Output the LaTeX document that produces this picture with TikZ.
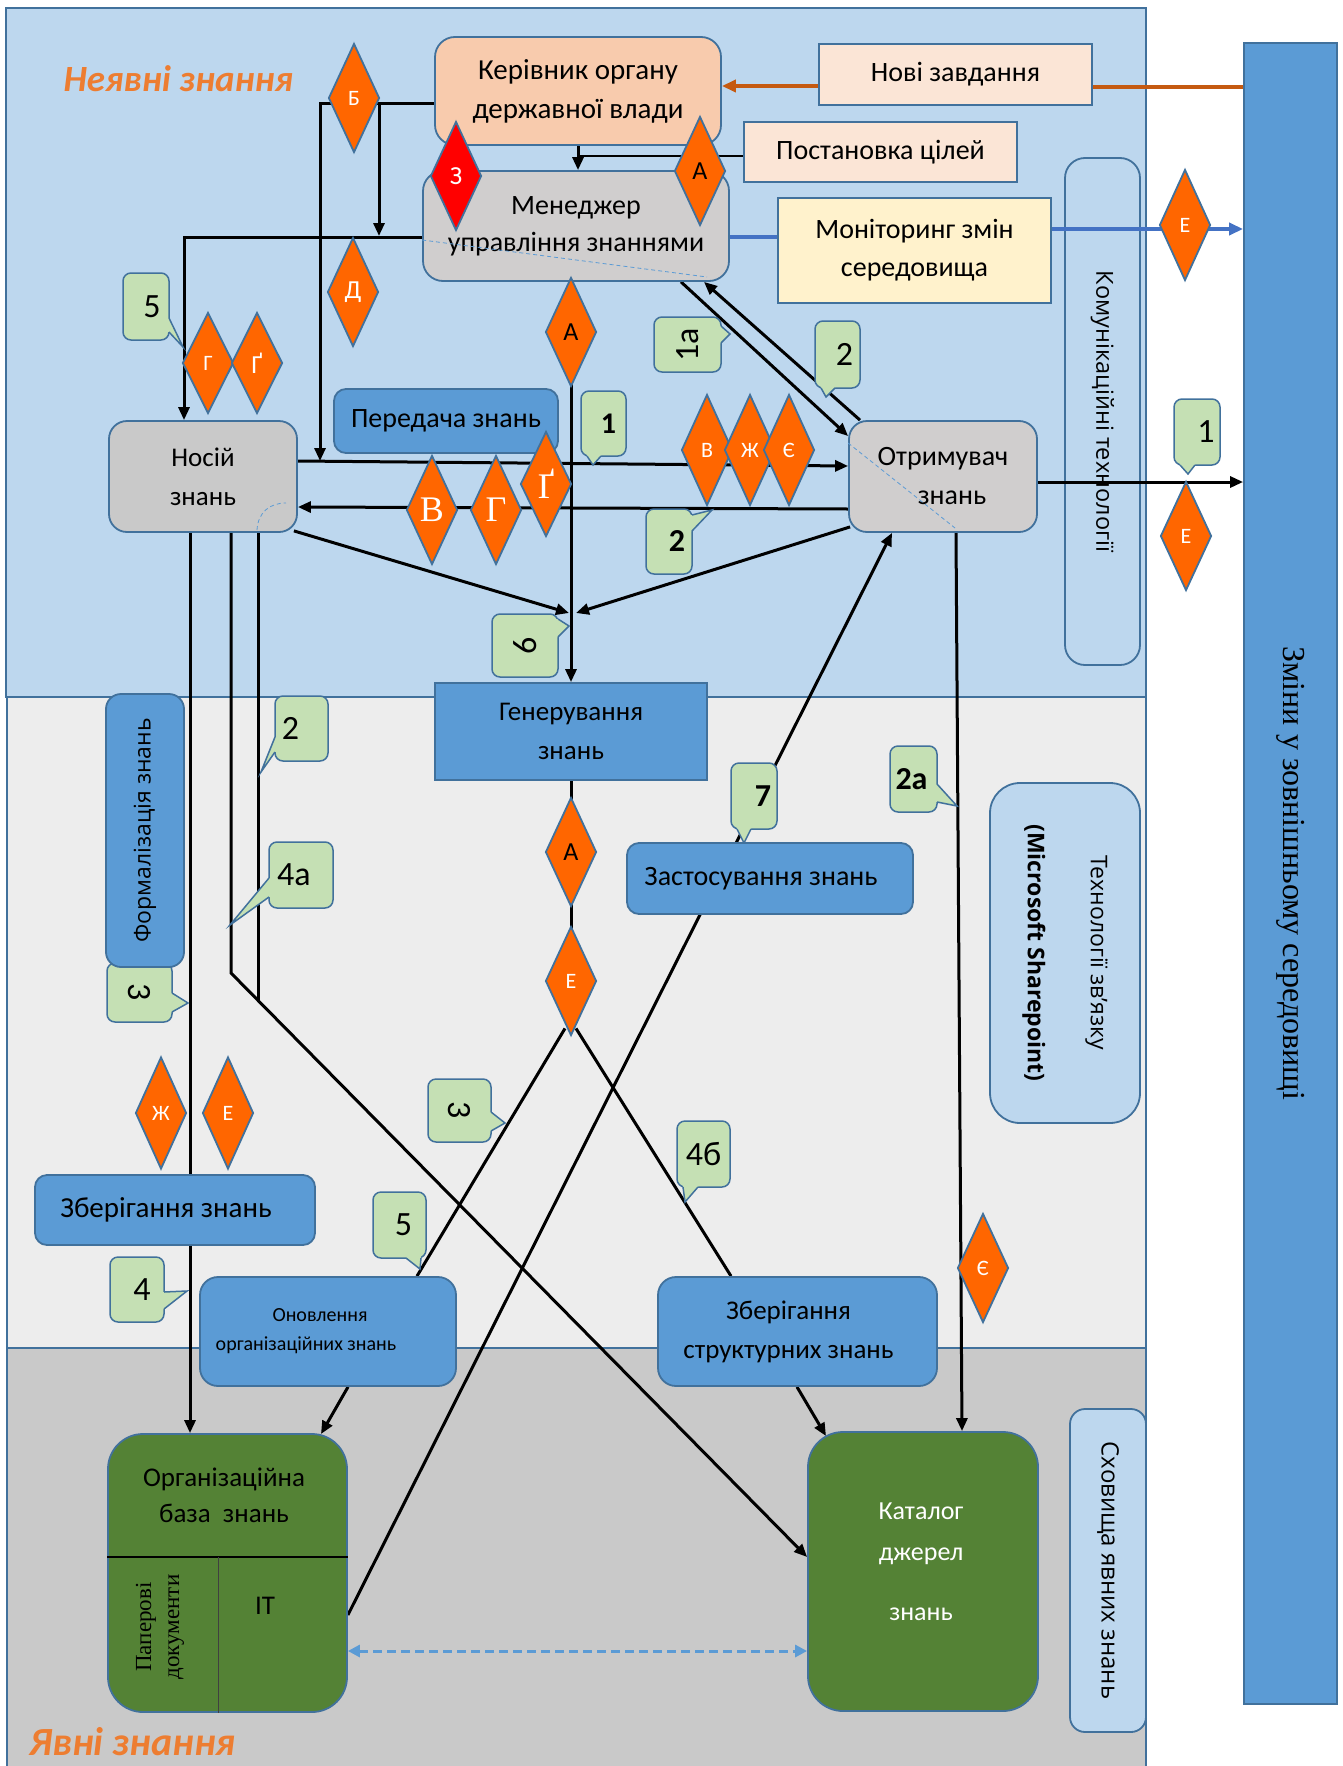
\documentclass[tikz,border=0pt]{standalone}
\usepackage{fontspec}
\setmainfont{Carlito}
\newfontfamily\osans{Open Sans}
\newfontfamily\tserif{Liberation Serif}
\usetikzlibrary{shapes.geometric,arrows.meta,calc}
\definecolor{pblue}{HTML}{BDD7EE}
\definecolor{pgray}{HTML}{EDEDED}
\definecolor{pdark}{HTML}{C9C9C9}
\definecolor{bordc}{HTML}{41719C}
\definecolor{kerF}{HTML}{F8CBAD}
\definecolor{grayB}{HTML}{D0CECE}
\definecolor{grayC}{HTML}{C9C9C9}
\definecolor{liteF}{HTML}{FBE5D6}
\definecolor{monF}{HTML}{FFF2CC}
\definecolor{mblue}{HTML}{5B9BD5}
\definecolor{dgreen}{HTML}{548235}
\definecolor{cgreen}{HTML}{C5E0B4}
\definecolor{dorange}{HTML}{FF6600}
\definecolor{dred}{HTML}{FF0000}
\definecolor{torange}{HTML}{ED7D31}
\definecolor{brownc}{HTML}{C55A11}
\definecolor{bluec}{HTML}{4472C4}
\newcommand{\fs}[2]{\fontsize{#1pt}{#2pt}\selectfont}
\newcommand{\ptr}[4]{\fill[cgreen] ($#1+#4$) -- #1 -- #2 -- #3 -- ($#3+#4$) -- cycle;
  \draw[bordc,line width=1.5pt] #1 -- #2 -- #3;}
\pgfdeclarelayer{bg}
\pgfdeclarelayer{ln}
\pgfsetlayers{bg,ln,main}
\tikzset{
  bd/.style={draw=bordc, line width=1.8pt},
  box/.style={bd, align=center, inner sep=0pt, text=black},
  dia/.style={diamond, bd, fill=dorange, inner sep=0pt, minimum width=51pt, minimum height=109pt, text=white, font=\fs{22}{24}},
  call/.style={draw=bordc, line width=1.5pt, fill=cgreen, rounded corners=8pt, inner sep=0pt, font=\fs{34}{36}},
  conn/.style={line width=3pt, draw=black},
  arr/.style={-{Triangle[length=13pt,width=11pt]}},
  dsh/.style={draw=mblue, line width=0.8pt, dash pattern=on 4pt off 3pt},
}
\begin{document}
\begin{tikzpicture}[x=1pt,y=-1pt]
\useasboundingbox (0,0) rectangle (1343,1766);
\begin{pgfonlayer}{bg}
  \filldraw[fill=pblue, draw=bordc, line width=1.8pt] (6,8) rectangle (1146,697);
  \filldraw[fill=pgray, draw=bordc, line width=1.8pt] (7,697) rectangle (1146,1348);
  \filldraw[fill=pdark, draw=bordc, line width=1.8pt] (7,1348) rectangle (1146,1772);
\end{pgfonlayer}

% titles
\node[anchor=west, font=\fs{37}{39}\bfseries\itshape, text=torange] (t1) at (60,79) {Неявні знання};
\node[anchor=west, font=\fs{40}{42}\bfseries\itshape, text=torange] (t2) at (26,1742) {Явні знання};

% callouts
\node[call, minimum width=46pt, minimum height=67pt] (c5a) at (146,306.5) {\hspace*{12pt}5};
\ptr{(169,318)}{(183,347)}{(169,332)}{(-3,0)}
\node[call, rotate=90, minimum width=55pt, minimum height=67pt] (c1a) at (687.5,344.5) {1а};
\ptr{(721,326)}{(730,334)}{(721,343)}{(-3,0)}
\node[call, minimum width=45pt, minimum height=67pt] (c2u) at (837.5,354.5) {\hspace*{14pt}2};
\ptr{(821,388)}{(826,397)}{(835,388)}{(0,-3)}
\node[call, minimum width=45pt, minimum height=65pt, font=\fs{30}{32}\bfseries] (c1) at (603.5,423.5) {\hspace*{10pt}1};
\ptr{(587,456)}{(593,465)}{(601,456)}{(0,-3)}
\node[call, minimum width=46pt, minimum height=65pt, font=\fs{32}{34}\bfseries] (c2b) at (669,541.5) {\hspace*{16pt}2};
\ptr{(692,515)}{(712,510)}{(692,531)}{(-3,0)}
\node[call, rotate=90, minimum width=63pt, minimum height=66pt] (c6) at (525,645.5) {\raisebox{-5pt}{6}};
\ptr{(558,619)}{(569,626)}{(558,637)}{(-3,0)}
\node[call, minimum width=53pt, minimum height=65pt] (c2m) at (301.5,728.5) {2\hspace*{22pt}};
\ptr{(275,737)}{(261,772)}{(275,752)}{(3,0)}
\node[call, minimum width=64pt, minimum height=66pt] (c4a) at (301,875) {4а\hspace*{14pt}};
\ptr{(269,878)}{(230,925)}{(269,897)}{(3,0)}
\node[call, rotate=-90, minimum width=59pt, minimum height=65pt] (c3a) at (139.5,992.5) {\raisebox{-4pt}{3}};
\ptr{(172,993)}{(188,1003)}{(172,1012)}{(-3,0)}
\node[call, minimum width=46pt, minimum height=66pt, font=\fs{32}{34}\bfseries] (c7) at (754,796) {\hspace*{18pt}7};
\ptr{(737,829)}{(744,843)}{(751,829)}{(0,-3)}
\node[call, minimum width=47pt, minimum height=66pt, font=\fs{32}{34}\bfseries] (c2a) at (913.5,779) {2а\hspace*{4pt}};
\ptr{(937,784)}{(957,806)}{(937,802)}{(-3,0)}
\node[call, rotate=-90, minimum width=63pt, minimum height=63pt] (c3b) at (459.5,1110.5) {\raisebox{-3pt}{3}};
\ptr{(491,1112)}{(505,1123)}{(491,1131)}{(-3,0)}
\node[call, minimum width=53pt, minimum height=66pt] (c4b) at (703.5,1154) {4б};
\ptr{(683,1187)}{(685,1202)}{(698,1187)}{(0,-3)}
\node[call, minimum width=53pt, minimum height=66pt] (c5b) at (399.5,1225) {\hspace*{8pt}5};
\ptr{(406,1258)}{(420,1269)}{(421,1258)}{(0,-3)}
\node[call, minimum width=54pt, minimum height=65pt] (c4) at (137,1289.5) {\hspace*{10pt}4};
\ptr{(164,1292)}{(187,1291)}{(164,1309)}{(-3,0)}
\node[call, minimum width=46pt, minimum height=66pt] (c1r) at (1197,432) {\hspace*{18pt}1};
\ptr{(1180,465)}{(1188,474)}{(1195,465)}{(0,-3)}

% boxes
\node[box, fill=kerF, rounded corners=20pt, minimum width=286pt, minimum height=108pt, font=\fs{29}{39}] (ker) at (578,91) {Керівник органу\\державної влади};
\node[box, fill=grayB, rounded corners=20pt, minimum width=306pt, minimum height=110pt, font=\fs{28}{37}] (men) at (576,226) {Менеджер\\управління знаннями};
\node[box, fill=liteF, minimum width=273pt, minimum height=61pt, font=\fs{28}{30}] (novi) at (955.5,74.5) {Нові завдання};
\node[box, fill=liteF, minimum width=273pt, minimum height=60pt, font=\fs{28}{30}] (post) at (880.5,152) {Постановка цілей};
\node[box, fill=monF, minimum width=273pt, minimum height=105pt, font=\fs{28}{38}] (mon) at (914.5,250.5) {Моніторинг змін\\середовища};
\node[box, fill=pblue, rounded corners=20pt, rotate=-90, minimum width=507pt, minimum height=75pt, font=\osans\fs{23.5}{26}] (kom) at (1102.5,411.5) {Комунікаційні технології};
\node[box, fill=grayC, rounded corners=18pt, minimum width=188pt, minimum height=111pt, font=\fs{27}{39}] (nos) at (203,476.5) {Носій\\знань};
\node[box, fill=mblue, rounded corners=12pt, minimum width=224pt, minimum height=64pt, font=\fs{28}{30}] (per) at (446,421) {Передача знань};
\node[box, fill=grayB, rounded corners=18pt, minimum width=188pt, minimum height=111pt, font=\fs{28}{39}] (otr) at (943,476.5) {Отримувач\\\hspace*{18pt}знань};
\node[box, fill=mblue, minimum width=272pt, minimum height=97pt, font=\fs{27}{39}] (gen) at (571,731.5) {Генерування\\знань};
\node[box, fill=mblue, rounded corners=15pt, rotate=90, minimum width=273pt, minimum height=78pt, font=\osans\fs{23}{25}] (form) at (145,830.5) {Формалізація знань};
\node[box, fill=mblue, rounded corners=12pt, minimum width=286pt, minimum height=71pt, font=\fs{28}{30}] (zast) at (770,878.5) {Застосування знань\hspace*{18pt}};
\node[box, fill=pblue, rounded corners=30pt, rotate=-90, minimum width=340pt, minimum height=150pt, font=\osans\fs{23}{27}] (tech) at (1065,953) {Технології зв’язку\\[36pt]{\bfseries(Microsoft Sharepoint)}};
\node[box, fill=mblue, rounded corners=12pt, minimum width=280pt, minimum height=70pt, font=\fs{29}{31}] (zb1) at (175,1210) {Зберігання знань\hspace*{18pt}};
\node[box, fill=mblue, rounded corners=18pt, minimum width=256pt, minimum height=109pt, font=\fs{20}{29}] (onov) at (328,1331.5) {Оновлення\hspace*{16pt}\\організаційних знань\hspace*{44pt}};
\node[box, fill=mblue, rounded corners=18pt, minimum width=279pt, minimum height=109pt, font=\fs{27}{39}] (zbs) at (797.5,1331.5) {Зберігання\hspace*{18pt}\\структурних знань\hspace*{18pt}};
\node[box, fill=dgreen, rounded corners=35pt, minimum width=239pt, minimum height=278pt] (org) at (227.5,1573) {};
\node[font=\fs{27}{36}, align=center] (orgt) at (224,1495) {Організаційна\\база\ \ знань};
\draw[black, line width=1.8pt] (org.west |- 0,1557) -- (org.east |- 0,1557);
\draw[black!75, line width=0.8pt] (218,1557) -- (218,0 |- org.south);
\node[rotate=90, font=\tserif\fs{23}{28}, align=center] (pap) at (160,1627) {Паперові\\документи};
\node[font=\fs{27}{28}] (it) at (265,1606) {IT};
\node[box, fill=dgreen, rounded corners=35pt, minimum width=230pt, minimum height=279pt] (kat) at (923,1571.5) {};
\node[text=white, font=\fs{26}{28}, align=center] (katt) at (921,1562) {Каталог\\[13pt]джерел\\[32pt]знань};
\node[box, fill=pblue, rounded corners=15pt, rotate=-90, minimum width=323pt, minimum height=76pt, font=\osans\fs{24}{26}] (shov) at (1108,1570.5) {Сховища явних знань};
\node[box, fill=mblue, rotate=-90, minimum width=1661pt, minimum height=93pt, font=\tserif\fs{32}{34}] (zmin) at (1290.5,873.5) {Зміни у зовнішньому середовищі};

% artefact dashed lines
\draw[dsh] (men.west |- 0,240) -- (707,277);
\draw[dsh] (otr.west |- 0,443) -- (955,528);
\draw[dsh] (257,530) .. controls (258,512) and (270,503) .. (286,503);

% connectors drawn above the technology box
\draw[bluec, line width=3.5pt, -{Triangle[length=14pt,width=12pt]}] (mon.east |- 0,229) -- (zmin.south |- 0,229);
\draw[conn, arr] (otr.east |- 0,482) -- (zmin.south |- 0,482);

% diamonds
\node[dia] (dB) at (354,98) {Б};
\node[dia, fill=dred, font=\fs{26}{28}] (dZ) at (456,176) {З};
\node[dia, text=black, font=\fs{26}{28}] (dA1) at (700,171) {А};
\node[dia, font=\fs{26}{28}] (dD) at (353,292) {Д};
\node[dia, minimum height=101pt] (dG1) at (208,363) {Г};
\node[dia, minimum height=101pt, font=\fs{26}{28}] (dGG1) at (257,363) {Ґ};
\node[dia, text=black, font=\fs{26}{28}] (dA2) at (571,332) {А};
\node[dia, font=\tserif\fs{36}{38}] (dV1) at (432,510) {В};
\node[dia, font=\tserif\fs{36}{38}] (dG2) at (496,510) {Г};
\node[dia, minimum height=105pt, font=\tserif\fs{36}{38}] (dGG2) at (546,484) {Ґ};
\node[dia, minimum height=111pt] (dV2) at (707,450) {В};
\node[dia, minimum height=111pt] (dZh1) at (750,450) {Ж};
\node[dia, minimum height=111pt] (dYe1) at (789,450) {Є};
\node[dia, minimum height=111pt] (dE1) at (1185,225) {Е};
\node[dia] (dE2) at (1186,536) {Е};
\node[dia, text=black, font=\fs{26}{28}] (dA3) at (571,852) {А};
\node[dia] (dE3) at (571,981) {Е};
\node[dia, minimum height=112pt] (dZh2) at (161,1113) {Ж};
\node[dia, minimum height=112pt] (dE4) at (228,1113) {Е};
\node[dia] (dYe2) at (983,1268) {Є};

% connectors
\coordinate (j1) at (320,461);
\coordinate (j2) at (379,236);
\coordinate (j6) at (569,613);
\coordinate (j7) at (576,613);
\coordinate (bsplit) at (379,104);
\begin{pgfonlayer}{ln}
  \draw[conn, arr] (ker.west |- 0,104) -| (j1);
  \draw[conn, arr] (bsplit) -- (j2);
  \draw[conn, arr] (men.west |- 0,237) -| (184,0 |- nos.north);
  \draw[conn, arr] (ker.south) -- (ker.south |- men.north);
  \draw[line width=2.2pt] (post.west |- 0,156) -- (ker.south |- 0,156);
  \draw[brownc, line width=3.5pt, -{Triangle[length=14pt,width=12pt]}] (novi.west |- 0,86) -- (ker.east |- 0,86);
  \draw[brownc, line width=3.5pt] (novi.east |- 0,87) -- (zmin.south |- 0,87);
  \draw[bluec, line width=3.5pt] (men.east |- 0,237) -- (mon.west |- 0,237);
  \draw[conn, arr] (681,0 |- men.south) -- (otr.west |- 0,436);
  \draw[conn, arr] (860,0 |- otr.north) -- (704,0 |- men.south);
  \draw[conn, arr] (gen.north |- men.south) -- (gen.north);
  \draw[conn, arr] (nos.east |- 0,461) -- (otr.west |- 0,466);
  \draw[conn, arr] (otr.west |- 0,509) -- (nos.east |- 0,507);
  \draw[conn, arr] ($(nos.south east)+(-4,-2)$) -- (j6);
  \draw[conn, arr] ($(otr.south west)+(2,-6)$) -- (j7);
  \draw[conn, arr] (956,0 |- otr.south) -- (962,0 |- kat.north);
  \draw[conn, arr] (org.east |- 0,1615) -- (892,0 |- otr.south);
  \draw[conn] (gen.south) -- (dE3.center);
  \draw[conn] ($(dE3.south)+(-6,-8)$) -- (417,0 |- onov.north);
  \draw[conn] ($(dE3.south)+(5,-8)$) -- (731,0 |- zbs.north);
  \draw[conn, arr] (348,0 |- onov.south) -- (321,1434);
  \draw[conn, arr] (797,0 |- zbs.south) -- (826,1436);
  \draw[conn, arr] (190,0 |- nos.south) -- (190,0 |- org.north);
  \draw[conn, arr] (231,0 |- nos.south) -- (231,973) -- (kat.west |- 0,1557);
  \draw[conn] (258,0 |- nos.south) -- (258,1000);
  \draw[mblue, line width=3pt, dash pattern=on 9pt off 5pt, {Triangle[length=12pt,width=12pt]}-{Triangle[length=12pt,width=12pt]}] (org.east |- 0,1651) -- (kat.west |- 0,1651);
\end{pgfonlayer}
\end{tikzpicture}
\end{document}
